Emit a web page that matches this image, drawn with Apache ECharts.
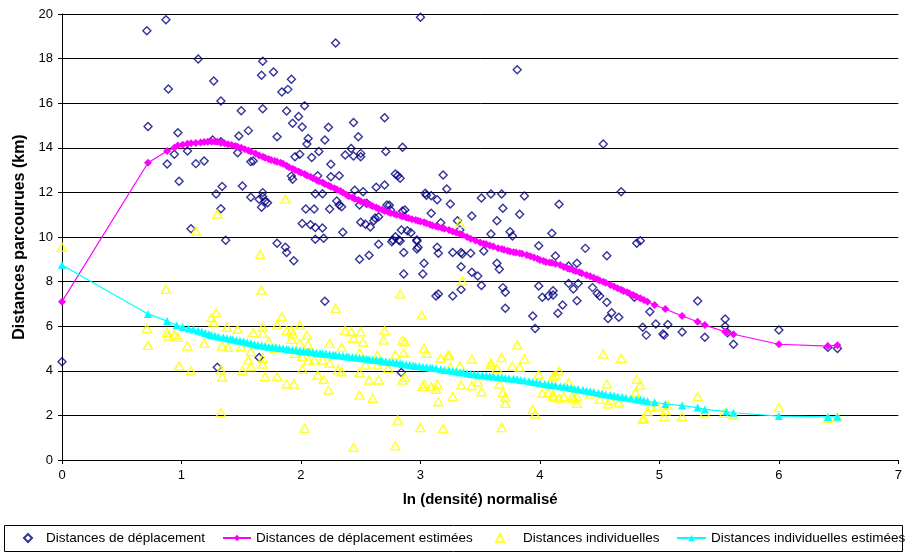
<!DOCTYPE html>
<html>
<head>
<meta charset="utf-8">
<script src="https://cdn.jsdelivr.net/npm/echarts@6/dist/echarts.min.js"></script>
<style>html,body{margin:0;padding:0;background:#fff}#c{width:905px;height:552px}</style>
</head>
<body>
<div id="c"></div>
<script>
// Series names
const seriesNames = ['Distances de déplacement', 'Distances de déplacement estimées', 'Distances individuelles', 'Distances individuelles estimées'];
const xTicks = [0, 1, 2, 3, 4, 5, 6, 7];
const yTicks = [0, 2, 4, 6, 8, 10, 12, 14, 16, 18, 20];
const xTitle = 'ln (densité) normalisé';
const yTitle = 'Distances parcourues (km)';

// [ln density, km]
const deplacement = [
[0,4.41],[0.71,19.25],[0.87,19.74],[1.14,17.98],[0.89,16.64],[1.27,17.0],[1.33,16.1],[1.50,15.66],[0.72,14.96],[0.97,14.68],
[1.48,14.53],[1.56,14.77],[0.94,13.71],[1.05,13.86],[0.88,13.27],[1.12,13.29],[1.19,13.41],[1.47,13.78],[1.58,13.38],[1.60,13.41],
[0.98,12.5],[1.29,11.93],[1.34,12.26],[1.51,12.29],[1.58,11.78],[1.33,11.27],[1.08,10.37],[1.37,9.85],[1.26,14.35],[1.33,14.27],[1.30,4.16],
[3.0,19.85],[2.29,18.7],[1.68,17.88],[1.67,17.25],[1.77,17.4],[1.92,17.07],[1.84,16.5],[1.89,16.62],[1.68,15.75],[1.88,15.65],
[2.03,15.89],[1.98,15.4],[1.93,15.1],[2.01,14.93],[2.23,14.92],[2.44,15.13],[2.70,15.35],[1.80,14.5],[2.06,14.42],[2.05,14.17],
[2.20,14.35],[2.48,14.5],[2.85,14.02],[1.95,13.6],[1.99,13.71],[2.09,13.56],[2.15,13.83],[2.37,13.68],[2.42,13.97],[2.44,13.63],
[2.50,13.75],[2.50,13.6],[2.71,13.83],[2.25,13.26],[2.79,12.82],[2.81,12.75],[2.83,12.63],[3.19,12.78],[1.92,12.73],[1.93,12.59],
[2.14,12.75],[2.25,12.7],[2.32,12.75],[2.63,12.23],[2.70,12.33],[3.22,12.15],[1.68,11.99],[1.68,11.8],[1.65,11.69],[1.67,11.33],
[1.70,11.6],[1.72,11.54],[2.12,11.94],[2.18,11.94],[2.45,12.1],[2.52,12.03],[3.04,11.96],[3.05,11.87],[3.09,11.85],[3.14,11.67],
[2.30,11.61],[2.32,11.43],[2.34,11.36],[2.49,11.43],[2.55,11.51],[2.04,11.26],[2.11,11.26],[2.24,11.26],[2.74,11.42],[2.87,11.21],
[2.85,11.17],[3.09,11.06],[2.01,10.61],[2.08,10.55],[2.12,10.43],[2.18,10.4],[2.50,10.66],[2.54,10.57],[2.58,10.45],[2.62,10.85],
[2.65,10.91],[2.61,10.73],[2.35,10.21],[3.17,10.64],[2.12,9.9],[2.19,9.94],[1.80,9.72],[1.87,9.54],[2.65,9.67],[2.77,9.87],
[2.79,10.01],[2.84,10.31],[2.82,9.87],[2.89,10.28],[2.92,10.19],[2.97,9.87],[2.98,9.54],[3.14,9.54],[2.72,11.43],[2.75,11.21],
[1.88,9.3],[1.94,8.94],[2.76,9.79],[2.83,9.82],[2.97,9.82],[2.97,9.46],[2.86,9.31],[2.49,9.0],[2.57,9.18],[3.03,8.82],
[3.02,8.34],[2.86,8.34],[3.15,9.27],[2.20,7.12],[3.13,7.35],[3.15,7.44],[1.65,4.6],[2.84,3.92],
[3.81,17.5],[4.53,14.17],[4.68,12.03],[3.25,11.48],[3.51,11.75],[3.59,11.93],[3.68,11.93],[3.87,11.84],[3.69,11.29],[4.16,11.47],
[3.43,10.94],[3.83,11.02],[3.64,10.73],[3.31,10.73],[3.33,10.31],[3.59,10.13],[3.75,10.24],[3.77,10.04],[4.10,10.17],[3.99,9.61],
[4.38,9.49],[4.81,9.72],[4.84,9.83],[4.56,9.16],[3.27,9.3],[3.34,9.3],[3.35,9.24],[3.42,9.27],[3.53,9.37],[3.64,8.82],
[3.66,8.55],[3.34,8.67],[3.43,8.42],[3.48,8.25],[4.13,9.15],[4.31,8.82],[4.24,8.7],[3.34,7.65],[3.27,7.35],[3.51,7.82],
[3.69,7.73],[3.71,7.52],[3.71,6.8],[3.99,7.8],[4.02,7.3],[4.07,7.35],[4.11,7.59],[4.11,7.4],[4.24,7.92],[4.32,7.92],
[4.28,7.67],[4.19,6.95],[4.15,6.58],[3.94,6.46],[3.96,5.9],[4.31,7.14],[4.44,7.73],[4.48,7.47],[4.50,7.35],[4.56,7.07],
[4.60,6.6],[4.57,6.35],[4.66,6.4],[4.86,5.95],[4.79,7.3],
[5.32,7.13],[4.92,6.65],[4.89,5.6],[4.97,6.1],[5.07,6.08],[5.03,5.65],[5.04,5.6],[5.19,5.74],[5.38,5.5],[5.55,6.32],
[5.55,6.0],[5.57,5.71],[5.62,5.19],[6.0,5.83],[6.41,5.05],[6.49,5.0]
];

const deplacementEstimees = [
[0,7.1],[0.72,13.33],[0.88,13.86],[0.94,14.0],[0.97,14.1],[1.01,14.14],[1.05,14.18],[1.08,14.2],[1.12,14.22],[1.16,14.24],[1.19,14.26],[1.22,14.27],[1.25,14.28],[1.28,14.28],[1.30,14.27],
[1.33,14.24],[1.36,14.2],[1.39,14.16],[1.42,14.12],[1.45,14.08],[1.47,14.05],[1.50,14.0],[1.53,13.93],[1.56,13.88],[1.58,13.83],[1.62,13.74],[1.65,13.66],[1.68,13.6],[1.70,13.55],[1.73,13.5],[1.75,13.45],[1.78,13.41],[1.80,13.38],[1.83,13.33],[1.85,13.28],
[1.88,13.2],[1.90,13.13],[1.93,13.06],[1.95,13.0],[1.98,12.94],[2.0,12.88],[2.03,12.82],[2.05,12.76],[2.08,12.7],[2.10,12.63],[2.13,12.56],[2.15,12.5],[2.18,12.44],[2.2,12.38],[2.23,12.31],[2.25,12.25],[2.28,12.19],[2.3,12.13],[2.33,12.06],[2.35,12.0],
[2.38,11.9],[2.4,11.83],[2.43,11.77],[2.45,11.72],[2.48,11.66],[2.5,11.6],[2.53,11.55],[2.55,11.5],[2.58,11.43],[2.6,11.38],[2.63,11.32],[2.65,11.27],[2.68,11.22],[2.7,11.17],[2.73,11.12],[2.75,11.08],[2.78,11.04],[2.8,11.0],[2.83,10.96],[2.85,10.92],
[2.88,10.88],[2.9,10.85],[2.93,10.8],[2.96,10.76],[2.98,10.73],[3.0,10.7],[3.03,10.66],[3.05,10.62],[3.08,10.56],[3.1,10.52],[3.13,10.48],[3.15,10.45],[3.18,10.4],[3.2,10.37],[3.24,10.31],[3.27,10.25],[3.3,10.2],[3.33,10.14],[3.35,10.1],[3.39,10.0],
[3.42,9.92],[3.46,9.84],[3.5,9.75],[3.53,9.7],[3.55,9.67],[3.58,9.62],[3.61,9.57],[3.65,9.5],[3.68,9.46],[3.7,9.43],[3.73,9.38],[3.75,9.35],[3.78,9.32],[3.8,9.3],[3.83,9.27],[3.85,9.25],[3.89,9.19],[3.92,9.14],
[3.95,9.08],[3.98,9.02],[4.0,8.97],[4.03,8.92],[4.05,8.88],[4.08,8.86],[4.1,8.84],[4.13,8.8],[4.17,8.74],[4.2,8.65],[4.23,8.6],[4.25,8.56],[4.28,8.51],[4.3,8.47],[4.33,8.42],[4.35,8.38],[4.39,8.3],[4.42,8.24],
[4.45,8.17],[4.48,8.1],[4.5,8.05],[4.53,7.99],[4.55,7.95],[4.59,7.85],[4.62,7.78],[4.65,7.7],[4.68,7.64],[4.7,7.58],[4.73,7.52],[4.75,7.47],[4.78,7.4],[4.81,7.32],[4.84,7.25],[4.87,7.18],[4.9,7.1],
[4.96,6.95],[5.05,6.77],[5.19,6.46],[5.32,6.2],[5.38,6.05],[5.55,5.75],[5.56,5.72],[5.62,5.64],[6.0,5.19],[6.41,5.11],[6.49,5.15]
];

const individuelles = [
[0,9.54],[1.30,11.03],[1.12,10.27],[0.87,7.65],[0.71,5.9],[0.72,5.14],[0.88,5.71],[0.89,5.56],[0.94,5.62],[0.97,5.5],
[1.05,5.11],[0.98,4.22],[1.08,4.0],[1.19,5.23],[1.25,6.38],[1.29,6.6],[1.27,6.16],[1.38,5.95],[1.47,5.86],[1.60,5.71],
[1.34,5.11],[1.39,5.05],[1.50,5.08],[1.58,4.86],[1.56,4.48],[1.58,4.18],[1.51,4.0],[1.33,4.04],[1.34,3.71],[1.33,2.12],
[1.66,9.22],[1.67,7.62],[2.83,7.44],[2.29,6.8],[3.01,6.5],[1.84,6.43],[1.80,6.05],[1.68,5.95],[1.68,5.68],[1.87,11.7],
[1.88,5.8],[1.92,5.83],[1.99,6.05],[1.93,5.65],[2.05,5.6],[1.92,5.41],[1.73,5.3],[2.37,5.8],[2.42,5.75],[2.50,5.75],
[2.44,5.46],[2.70,5.8],[2.69,5.38],[2.85,5.38],[2.87,5.3],[2.52,5.29],[2.24,5.23],[1.99,5.23],[2.06,5.16],[2.34,5.05],
[3.03,5.0],[3.05,4.78],[2.86,4.81],[2.79,4.71],[2.64,4.71],[3.17,4.56],[3.23,4.68],[2.49,4.81],[1.68,4.56],[1.68,4.3],
[1.78,5.0],[1.95,4.78],[2.01,4.63],[2.06,4.48],[2.11,4.48],[2.18,4.48],[2.24,4.34],[2.54,4.26],[2.64,4.26],[2.01,4.07],
[2.31,4.04],[2.34,3.96],[2.49,3.92],[2.73,4.11],[1.70,3.74],[1.80,3.74],[1.88,3.41],[1.94,3.41],[2.14,3.81],[2.19,3.62],
[2.23,3.14],[2.57,3.59],[2.65,3.59],[2.85,3.59],[2.87,3.71],[3.02,3.29],[3.03,3.41],[3.09,3.29],[3.13,3.17],[3.14,3.41],
[3.15,2.61],[2.49,2.91],[2.60,2.77],[2.81,1.79],[2.03,1.42],[3.0,1.45],[3.19,1.42],[2.44,0.57],[2.79,0.64],
[3.33,10.61],[3.35,8.03],[3.81,5.16],[3.24,4.71],[3.43,4.52],[3.59,4.36],[3.59,4.26],[3.68,4.6],[3.77,4.22],[3.83,4.16],
[3.87,4.53],[4.53,4.75],[4.68,4.56],[3.33,4.22],[3.25,4.16],[3.64,4.11],[4.16,3.99],[3.99,3.84],[4.11,3.74],[4.13,3.81],
[4.24,3.47],[4.56,3.41],[4.81,3.62],[4.84,3.36],[4.80,3.02],[3.34,3.36],[3.43,3.33],[3.48,3.51],[3.51,3.06],[3.66,3.41],
[3.69,3.02],[3.71,2.81],[3.71,2.54],[3.27,2.84],[4.02,2.99],[4.07,3.02],[4.11,2.91],[4.16,2.77],[4.11,2.84],[4.20,2.84],
[4.27,2.87],[4.31,2.84],[4.31,2.54],[4.28,2.77],[4.42,2.96],[4.50,2.72],[4.57,2.51],[4.59,2.69],[4.66,2.57],[3.94,2.27],
[3.96,2.06],[3.68,1.45],[4.86,1.82],
[5.32,2.84],[6.0,2.35],[4.90,2.17],[4.87,1.87],[4.93,2.39],[4.98,2.39],[5.05,2.21],[5.04,1.94],[5.07,2.47],[5.19,1.94],
[5.38,2.12],[5.54,2.09],[5.62,2.02],[6.41,1.87],[6.49,1.91],[4.82,2.72]
];

const individuellesEstimees = [
[0,8.74],[0.72,6.55],[0.88,6.23],[0.96,6.04],[1.01,5.96],[1.06,5.9],[1.1,5.85],[1.14,5.8],[1.17,5.75],[1.20,5.7],[1.23,5.64],[1.25,5.6],[1.28,5.57],[1.31,5.53],[1.35,5.49],[1.38,5.46],
[1.41,5.43],[1.43,5.4],[1.46,5.37],[1.49,5.35],[1.52,5.31],[1.55,5.27],[1.58,5.23],[1.61,5.19],[1.64,5.16],[1.67,5.13],[1.70,5.1],[1.73,5.08],[1.76,5.06],[1.79,5.04],[1.82,5.02],[1.85,5.0],[1.88,4.98],[1.9,4.96],[1.93,4.94],[1.96,4.92],
[1.99,4.9],[2.02,4.88],[2.05,4.86],[2.07,4.85],[2.10,4.83],[2.13,4.81],[2.16,4.79],[2.18,4.78],[2.21,4.76],[2.24,4.74],[2.27,4.72],[2.29,4.71],[2.32,4.69],[2.35,4.67],[2.38,4.65],[2.40,4.63],[2.43,4.62],[2.46,4.6],[2.49,4.58],[2.52,4.56],
[2.55,4.54],[2.57,4.52],[2.60,4.5],[2.63,4.49],[2.66,4.47],[2.68,4.45],[2.71,4.42],[2.74,4.4],[2.77,4.38],[2.8,4.36],[2.83,4.33],[2.85,4.31],[2.88,4.28],[2.91,4.26],[2.94,4.24],[2.96,4.22],[2.99,4.2],[3.02,4.18],[3.05,4.16],[3.08,4.14],
[3.10,4.12],[3.13,4.11],[3.17,4.07],[3.20,4.04],[3.24,4.02],[3.27,3.99],[3.3,3.97],[3.33,3.94],[3.36,3.92],[3.39,3.89],[3.42,3.86],[3.45,3.84],[3.48,3.82],[3.52,3.8],[3.55,3.78],[3.58,3.76],[3.61,3.74],[3.65,3.72],[3.68,3.7],
[3.71,3.68],[3.74,3.66],[3.78,3.64],[3.81,3.62],[3.84,3.59],[3.87,3.56],[3.91,3.53],[3.94,3.5],[3.97,3.47],[4.0,3.44],[4.04,3.41],[4.07,3.39],[4.10,3.36],[4.13,3.34],[4.17,3.31],[4.20,3.29],[4.23,3.26],[4.26,3.23],[4.29,3.2],[4.32,3.17],
[4.36,3.14],[4.39,3.11],[4.42,3.08],[4.45,3.05],[4.49,3.01],[4.52,2.98],[4.55,2.94],[4.59,2.91],[4.62,2.88],[4.65,2.85],[4.69,2.82],[4.72,2.79],[4.76,2.76],[4.81,2.72],[4.84,2.7],[4.87,2.67],[4.9,2.64],[4.96,2.59],[5.05,2.51],
[5.19,2.44],[5.32,2.35],[5.38,2.27],[5.56,2.17],[5.62,2.12],[6.0,1.97],[6.41,1.93],[6.49,1.94]
];

const FONT = 'Liberation Sans, Arial, Helvetica, sans-serif';
const chart = echarts.init(document.getElementById('c'), null, {renderer: 'canvas'});

const legendBase = {
  orient: 'horizontal', top: 531, padding: 0, itemHeight: 8,
  selectedMode: false,
  textStyle: {fontFamily: FONT, fontSize: 13.5, color: '#000', lineHeight: 14}
};

chart.setOption({
  animation: false,
  backgroundColor: '#fff',
  textStyle: {fontFamily: FONT},
  grid: {left: 62, right: 5, top: 14, bottom: 92, containLabel: false},
  xAxis: {
    type: 'value', min: xTicks[0], max: xTicks[xTicks.length - 1], interval: 1,
    name: xTitle, nameLocation: 'middle', nameGap: 32,
    nameTextStyle: {fontFamily: FONT, fontSize: 15, fontWeight: 'bold', color: '#000'},
    axisLine: {show: true, onZero: false, lineStyle: {color: '#000', width: 1}},
    axisTick: {show: true, length: 4, inside: false, lineStyle: {color: '#000'}},
    axisLabel: {fontFamily: FONT, fontSize: 13, color: '#000', margin: 9},
    splitLine: {show: false}
  },
  yAxis: {
    type: 'value', min: yTicks[0], max: yTicks[yTicks.length - 1], interval: 2,
    name: yTitle, nameLocation: 'middle', nameGap: 29, nameRotate: 90,
    nameTextStyle: {fontFamily: FONT, fontSize: 16, fontWeight: 'bold', color: '#000'},
    axisLine: {show: true, lineStyle: {color: '#000', width: 1}},
    axisTick: {show: true, length: 4, inside: false, lineStyle: {color: '#000'}},
    axisLabel: {fontFamily: FONT, fontSize: 13, color: '#000', margin: 9},
    splitLine: {show: true, lineStyle: {color: '#000', width: 1}}
  },
  graphic: [{
    type: 'rect', left: 4, top: 525, z: 0,
    shape: {width: 898, height: 26},
    style: {fill: '#fff', stroke: '#000', lineWidth: 1}
  }],
  legend: [
    Object.assign({}, legendBase, {data: [seriesNames[0]], left: 23, itemWidth: 8,
      textStyle: Object.assign({}, legendBase.textStyle, {padding: [0, 0, 0, 9]})}),
    Object.assign({}, legendBase, {data: [seriesNames[1]], left: 222, itemWidth: 28}),
    Object.assign({}, legendBase, {data: [seriesNames[2]], left: 495, itemWidth: 8,
      textStyle: Object.assign({}, legendBase.textStyle, {padding: [0, 0, 0, 14]})}),
    Object.assign({}, legendBase, {data: [seriesNames[3]], left: 676, itemWidth: 29})
  ],
  series: [
    {
      name: seriesNames[0], type: 'scatter', data: deplacement,
      symbol: 'diamond', symbolSize: 8,
      itemStyle: {color: 'rgba(255,255,255,0)', borderColor: '#000080', borderWidth: 1.4},
      z: 2
    },
    {
      name: seriesNames[1], type: 'line', data: deplacementEstimees,
      symbol: 'diamond', symbolSize: 8, showSymbol: true,
      lineStyle: {color: '#FF00FF', width: 1.2},
      itemStyle: {color: '#FF00FF', borderWidth: 0},
      z: 3
    },
    {
      name: seriesNames[2], type: 'scatter', data: individuelles,
      symbol: 'triangle', symbolSize: [9, 8],
      itemStyle: {color: 'rgba(255,255,255,0)', borderColor: '#FFFF00', borderWidth: 1.5},
      z: 4
    },
    {
      name: seriesNames[3], type: 'line', data: individuellesEstimees,
      symbol: 'triangle', symbolSize: 8, showSymbol: true,
      lineStyle: {color: '#00FFFF', width: 1.2},
      itemStyle: {color: '#00FFFF', borderWidth: 0},
      z: 5
    }
  ]
});
</script>
</body>
</html>
